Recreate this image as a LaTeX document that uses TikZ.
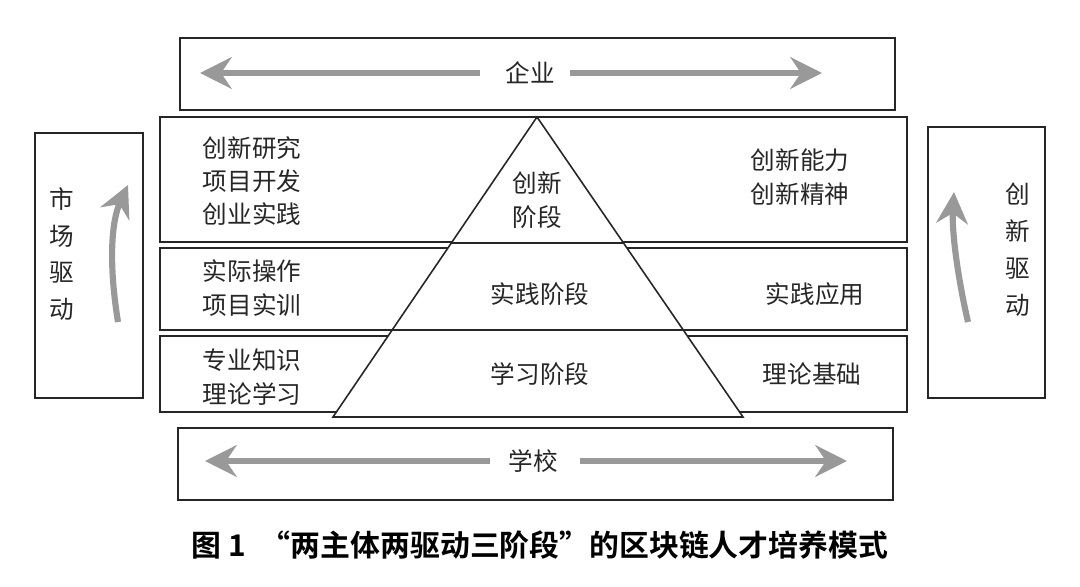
\documentclass[tikz,border=0pt]{standalone}
\usepackage{fontspec}
\setmainfont{Noto Sans CJK SC}
\newfontfamily\capfont{Noto Sans CJK SC Bold}
\usetikzlibrary{arrows.meta,calc}
\tikzset{
 box/.style={draw=black!85,line width=0.9pt},
 lbl/.style={font=\fontsize{14}{18}\selectfont,text=black!85,align=center,inner sep=0pt},
 garr/.style={draw=black!40,line width=3.5pt,-{Stealth[length=18pt,width=18pt,inset=6pt]}},
}
\begin{document}
\begin{tikzpicture}[x=0.02cm,y=-0.02cm]
\useasboundingbox (0,0) rectangle (1080,587);
% top
\draw[box] (180,38) rectangle (895,110);
\node[lbl] (qy) at (530,73) {企业};
\coordinate (qa) at (480,73); \coordinate (qb) at (200,73);
\coordinate (qc) at (570,73); \coordinate (qd) at (822,73);
\draw[garr] (qa) -- (qb); \draw[garr] (qc) -- (qd);
% bottom
\draw[box] (178,428) rectangle (893,500);
\node[lbl] (xx) at (533,461) {学校};
\coordinate (xa) at (490,461); \coordinate (xb) at (205,461);
\coordinate (xc) at (580,461); \coordinate (xd) at (847,461);
\draw[garr] (xa) -- (xb); \draw[garr] (xc) -- (xd);
% side boxes
\draw[box] (35,133) rectangle (143,398);
\node[lbl,align=center] (sc) at (62,254) {市\\[3pt]场\\[3pt]驱\\[3pt]动};
\coordinate (la) at (118,322); \coordinate (lb) at (128,185);
\draw[garr] (la) .. controls (108,260) and (112,220) .. (lb);
\draw[box] (928,127) rectangle (1045,398);
\node[lbl] (cx) at (1018,250) {创\\[3pt]新\\[3pt]驱\\[3pt]动};
\coordinate (ra) at (968,322); \coordinate (rb) at (954,192);
\draw[garr] (ra) .. controls (955,265) and (952,225) .. (rb);
% rows
\draw[box] (160,117) rectangle (907,242);
\draw[box] (160,248) rectangle (907,330);
\draw[box] (160,336) rectangle (907,412);
% triangle
\coordinate (ap) at (537,117); \coordinate (bl) at (333,417); \coordinate (br) at (743,417);
\draw[box,fill=white] (ap) -- (bl) -- (br) -- cycle;
\draw[box] ($(ap)!0.42!(bl)$) -- ($(ap)!0.42!(br)$);
\draw[box] ($(ap)!0.71!(bl)$) -- ($(ap)!0.71!(br)$);
% texts
\node[lbl] (t1) at (252,181) {创新研究\\[1pt]项目开发\\[1pt]创业实践};
\node[lbl] (t2) at (800,177) {创新能力\\[1pt]创新精神};
\node[lbl] (t3) at (537,200) {创新\\[1pt]阶段};
\node[lbl] (t4) at (252,288) {实际操作\\[1pt]项目实训};
\node[lbl] (t5) at (540,294) {实践阶段};
\node[lbl] (t6) at (815,294) {实践应用};
\node[lbl] (t7) at (252,377) {专业知识\\[1pt]理论学习};
\node[lbl] (t8) at (540,374) {学习阶段};
\node[lbl] (t9) at (812,374) {理论基础};
\node[font=\capfont\fontsize{17}{20}\selectfont,inner sep=0pt] (cap) at (540,545) {图 1\enspace“两主体两驱动三阶段”的区块链人才培养模式};
\end{tikzpicture}
\end{document}
